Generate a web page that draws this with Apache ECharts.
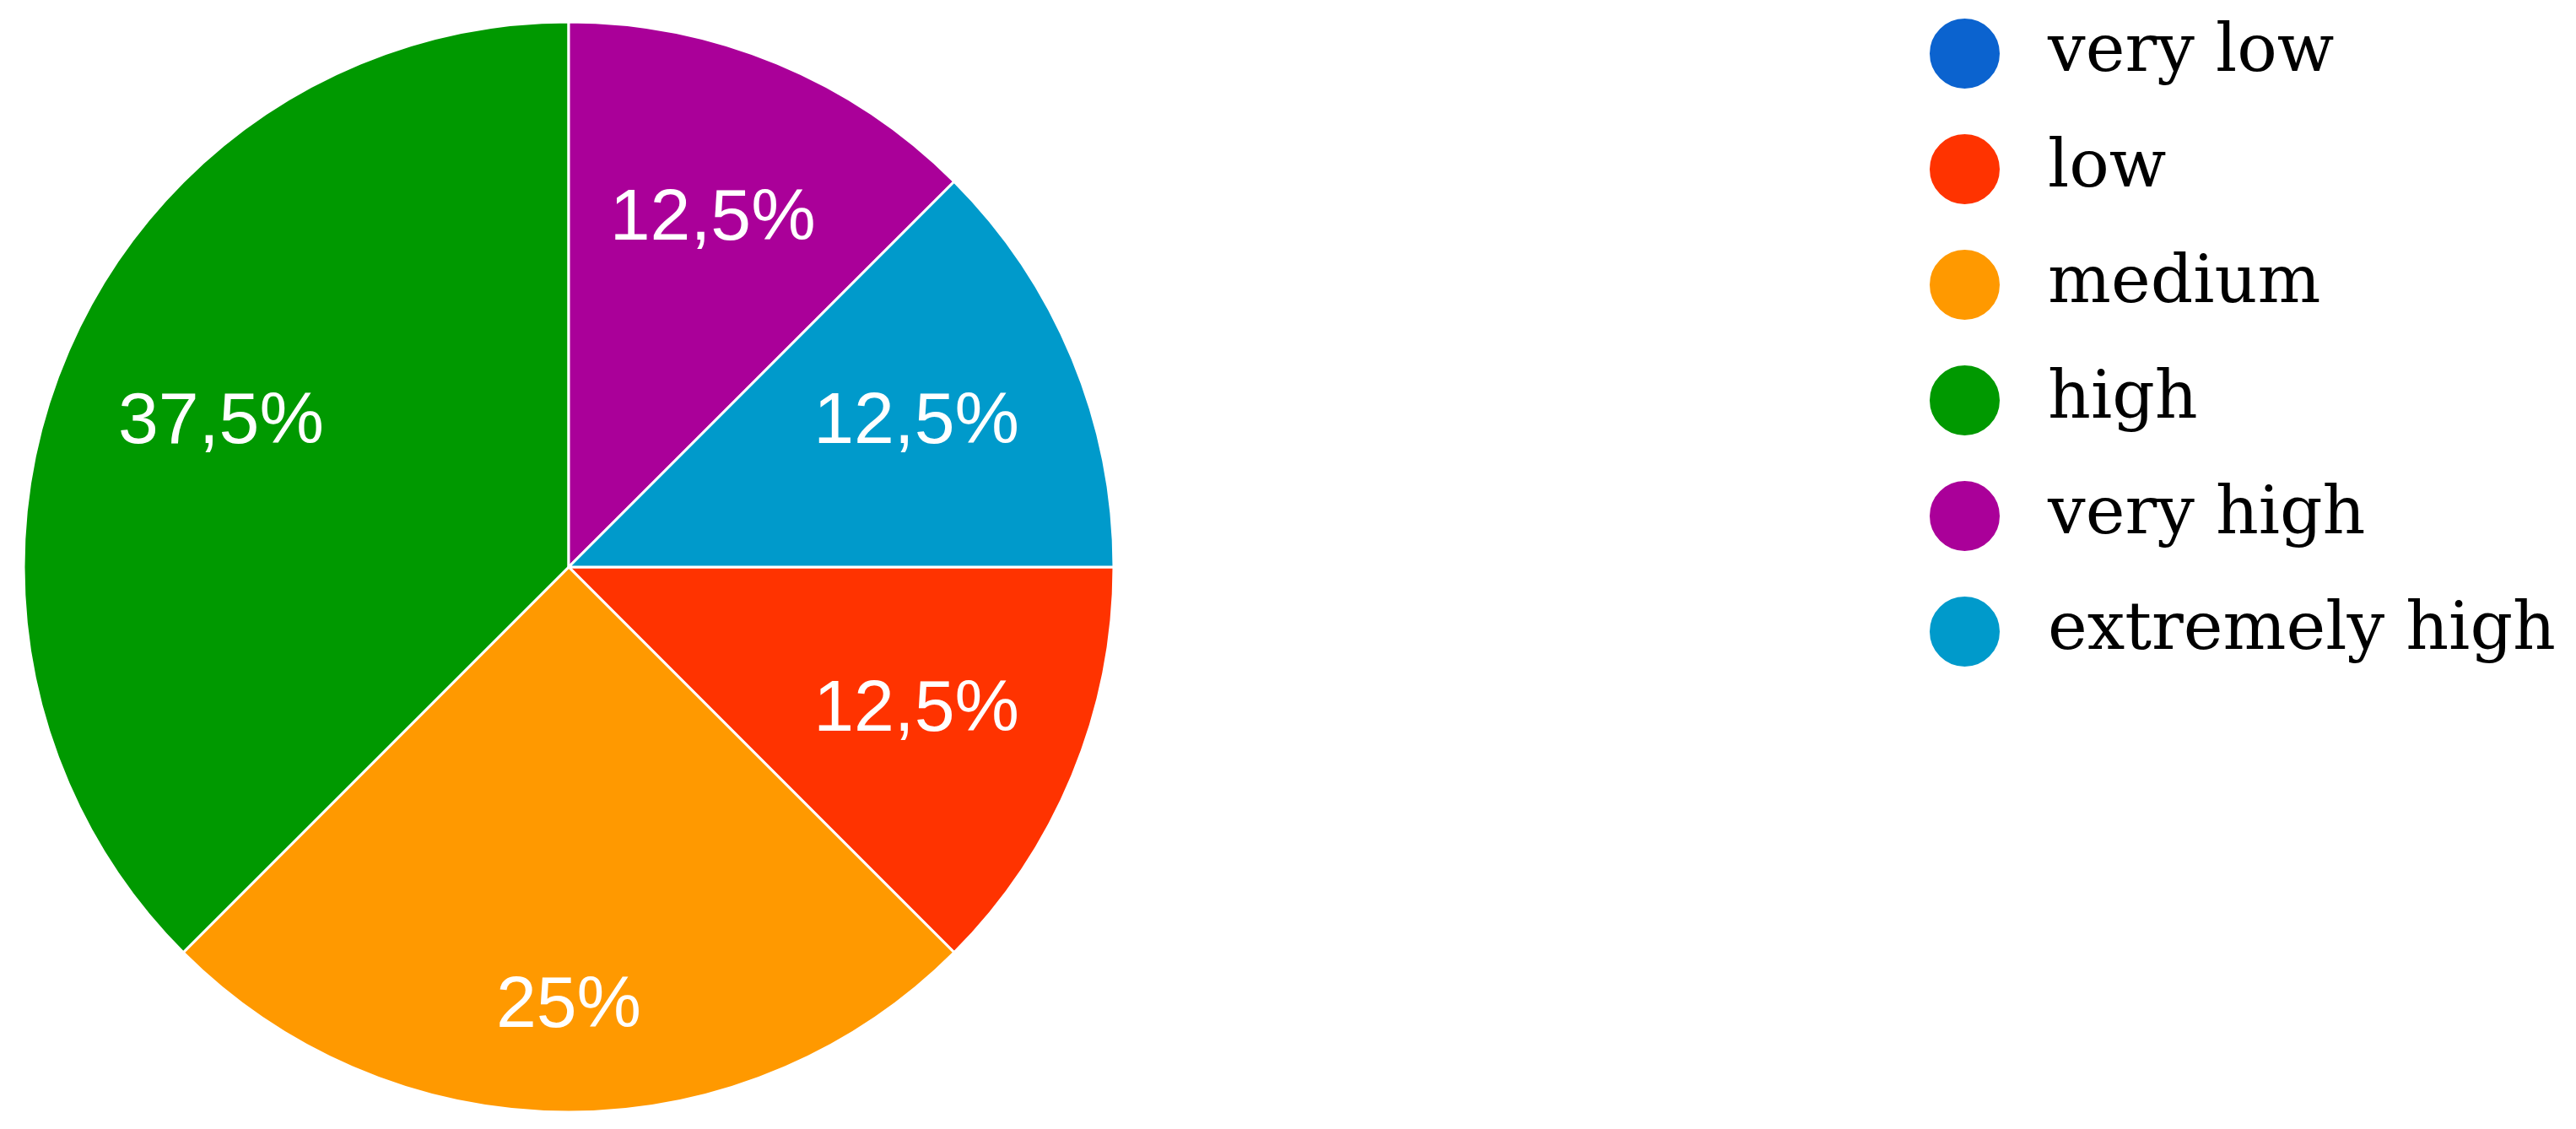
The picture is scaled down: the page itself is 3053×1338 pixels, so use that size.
<!DOCTYPE html>
<html>
<head>
<meta charset="utf-8">
<script src="https://cdn.jsdelivr.net/npm/echarts@6/dist/echarts.min.js"></script>
<style>html,body{margin:0;padding:0;background:#fff}#c{width:3053px;height:1338px}</style>
</head>
<body>
<div id="c"></div>
<script>
const categories = ['very low', 'low', 'medium', 'high', 'very high', 'extremely high'];
const values = [0, 12.5, 25, 37.5, 12.5, 12.5];
const colors = ['#0b63cf', '#ff3300', '#ff9900', '#009900', '#aa0099', '#009acb'];

const chart = echarts.init(document.getElementById('c'), null, {renderer: 'canvas'});
const pieData = categories.map((n, i) => ({name: n, value: values[i], itemStyle: {color: colors[i]}}));
const fmt = p => p.value ? String(p.percent).replace('.', ',') + '%' : '';

chart.setOption({
  animation: false,
  legend: {
    orient: 'vertical',
    left: 2280,
    top: 15,
    icon: 'circle',
    itemWidth: 85,
    itemHeight: 85,
    itemGap: 50,
    data: categories,
    textStyle: {fontFamily: 'DejaVu Serif', fontSize: 79, color: '#000', padding: [0, 0, 0, 51]}
  },
  series: [
    {
      type: 'pie',
      center: [674, 672],
      radius: [0, 646],
      startAngle: 0,
      clockwise: true,
      data: pieData,
      itemStyle: {borderColor: '#fff', borderWidth: 3},
      label: {show: false},
      labelLine: {show: false},
      emphasis: {disabled: true}
    },
    {
      type: 'pie',
      center: [674, 672],
      radius: [240, 646],
      startAngle: 0,
      clockwise: true,
      silent: true,
      data: categories.map((n, i) => ({
        name: n, value: values[i],
        label: n === 'medium' ? {offset: [0, 75]} : {}
      })),
      itemStyle: {color: 'rgba(0,0,0,0)', borderWidth: 0},
      label: {
        show: true,
        position: 'inside',
        formatter: fmt,
        color: '#fff',
        fontFamily: 'Liberation Sans',
        fontSize: 86
      },
      labelLine: {show: false},
      emphasis: {disabled: true}
    }
  ]
});
</script>
</body>
</html>
